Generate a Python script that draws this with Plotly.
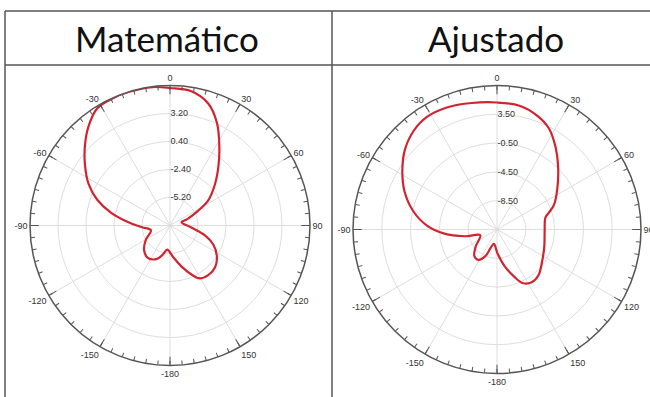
import plotly.graph_objects as go

# ---------------- data ----------------
titles = ["Matemático", "Ajustado"]

angle_tick_vals = [0, 30, 60, 90, 120, 150, 180, 210, 240, 270, 300, 330]
angle_tick_text = ["0", "30", "60", "90", "120", "150", "-180", "-150", "-120", "-90", "-60", "-30"]
minor_tick_vals = list(range(0, 360, 5))

# Matemático (left)
math_theta = [0, 8.8, 17.4, 24.6, 31.6, 38.6, 47.2, 56.6, 62.5, 69.6, 74.3, 94.6, 105.5, 113.9,
              123.1, 132.8, 142.4, 150.8, 155.6, 163.7, 173.8, 186.6, 193.6, 202.3, 215.1, 227.2,
              239.2, 256.0, 266.5, 274.4, 282.3, 289.5, 297.1, 305.6, 313.5, 320.7, 328.2, 335.6,
              343.0, 352.8, 360]
math_r = [5.75, 5.6, 4.78, 3.28, 1.41, -0.21, -1.85, -3.42, -4.88, -6.15, -6.8, -5.91, -4.40, -3.25,
          -2.41, -1.85, -1.73, -1.94, -2.54, -3.66, -4.78, -5.58, -5.03, -4.36, -4.08, -4.46,
          -5.18, -6.04, -5.21, -3.83, -1.95, -0.28, 1.15, 2.46, 3.72, 4.85, 5.79, 5.95,
          5.98, 5.95, 5.75]
math_range = [-8.0, 6.0]
math_rtick_vals = [-5.2, -2.4, 0.4, 3.2]
math_rtick_text = ["-5.20", "-2.40", "0.40", "3.20"]

# Ajustado (right)
adj_theta = [0, 10.3, 19.2, 27.0, 35.5, 44.1, 56.0, 66.6, 72.2, 76.3, 91.2, 109.7, 126.3, 137.8,
             146.7, 154.1, 159.8, 168.7, 179.3, 192.0, 199.3, 203.6, 211.4, 220.3, 231.4, 251.0,
             258.2, 265.5, 273.2, 282.3, 292.1, 300.9, 310.6, 319.6, 328.1, 338.0, 348.7, 360]
adj_r = [5.14, 4.98, 4.30, 3.32, 1.52, -0.3, -2.4, -3.88, -4.96, -5.58, -5.88, -5.52, -4.76, -3.92,
         -3.72, -4.2, -5.48, -7.38, -9.26, -10.46, -9.76, -8.46, -7.56, -7.64, -8.72, -10.04,
         -7.92, -5.16, -2.76, -0.6, 1.34, 2.82, 4.38, 5.42, 5.92, 5.82, 5.42, 5.14]
adj_range = [-12.5, 7.5]
adj_rtick_vals = [-8.5, -4.5, -0.5, 3.5]
adj_rtick_text = ["-8.50", "-4.50", "-0.50", "3.50"]

# ---------------- figure ----------------
W, H = 650, 397
CURVE = "#d2232f"
GRID = "#dddddd"
AXIS = "#555555"
TICKFONT = dict(family="Liberation Sans, Arial, sans-serif", size=9, color="#333333")


def px_dom_x(a, b):
    return [a / W, b / W]


def px_dom_y(top, bottom):
    return [1 - bottom / H, 1 - top / H]


panels = [
    dict(cx=170, cy=225.5, rad=140, theta=math_theta, r=math_r, rng=math_range,
         tv=math_rtick_vals, tt=math_rtick_text),
    dict(cx=497, cy=229.5, rad=144, theta=adj_theta, r=adj_r, rng=adj_range,
         tv=adj_rtick_vals, tt=adj_rtick_text),
]

fig = go.Figure()
layout = {}
for i, p in enumerate(panels):
    dom = dict(x=px_dom_x(p["cx"] - p["rad"], p["cx"] + p["rad"]),
               y=px_dom_y(p["cy"] - p["rad"], p["cy"] + p["rad"]))
    base = "polar" if i == 0 else f"polar{2 * i + 1}"
    top = f"polar{2 * i + 2}"
    layout[base] = dict(
        domain=dom, bgcolor="white",
        angularaxis=dict(rotation=90, direction="clockwise", tickmode="array",
                         tickvals=angle_tick_vals, ticktext=angle_tick_text,
                         ticks="inside", ticklen=8, tickcolor=AXIS, tickwidth=1,
                         showline=True, linecolor=AXIS, linewidth=1.5,
                         showgrid=True, gridcolor=GRID, gridwidth=1, tickfont=TICKFONT),
        radialaxis=dict(range=p["rng"], tickmode="array", tickvals=p["tv"], ticktext=p["tt"],
                        angle=90, tickangle=90, showline=False, ticks="", showgrid=True,
                        gridcolor=GRID, gridwidth=1, tickfont=TICKFONT),
    )
    layout[top] = dict(
        domain=dom, bgcolor="rgba(0,0,0,0)",
        angularaxis=dict(rotation=90, direction="clockwise", tickmode="array",
                         tickvals=minor_tick_vals, showticklabels=False,
                         ticks="inside", ticklen=4, tickcolor=AXIS, tickwidth=1,
                         showline=False, showgrid=False),
        radialaxis=dict(range=p["rng"], visible=False),
    )
    fig.add_trace(go.Scatterpolar(
        r=p["r"], theta=p["theta"], mode="lines", subplot=base,
        line=dict(color=CURVE, width=2.2, shape="spline", smoothing=1.0),
        hoverinfo="skip", showlegend=False))
    fig.add_trace(go.Scatterpolar(
        r=[], theta=[], mode="lines", subplot=top,
        hoverinfo="skip", showlegend=False))

# table lines
line_style = dict(color="#555555", width=1.5)
shapes = []
for (x0, y0, x1, y1) in [(5, 11, 650, 11), (5, 65, 650, 65), (5, 11, 5, 397), (332, 11, 332, 397)]:
    shapes.append(dict(type="line", xref="paper", yref="paper",
                       x0=x0 / W, x1=x1 / W, y0=1 - y0 / H, y1=1 - y1 / H, line=line_style))

annotations = []
for t, xc in zip(titles, [167, 496]):
    annotations.append(dict(text=t, x=xc / W, y=1 - 38 / H, xref="paper", yref="paper",
                            xanchor="center", yanchor="middle", showarrow=False,
                            font=dict(family="Lato, Carlito, sans-serif", size=35, color="#111111")))

fig.update_layout(width=W, height=H, margin=dict(l=0, r=0, t=0, b=0),
                  paper_bgcolor="white", showlegend=False,
                  shapes=shapes, annotations=annotations, **layout)

fig.write_html("out.html", config={"displayModeBar": False},
               post_script="document.body.style.margin='0px';")
